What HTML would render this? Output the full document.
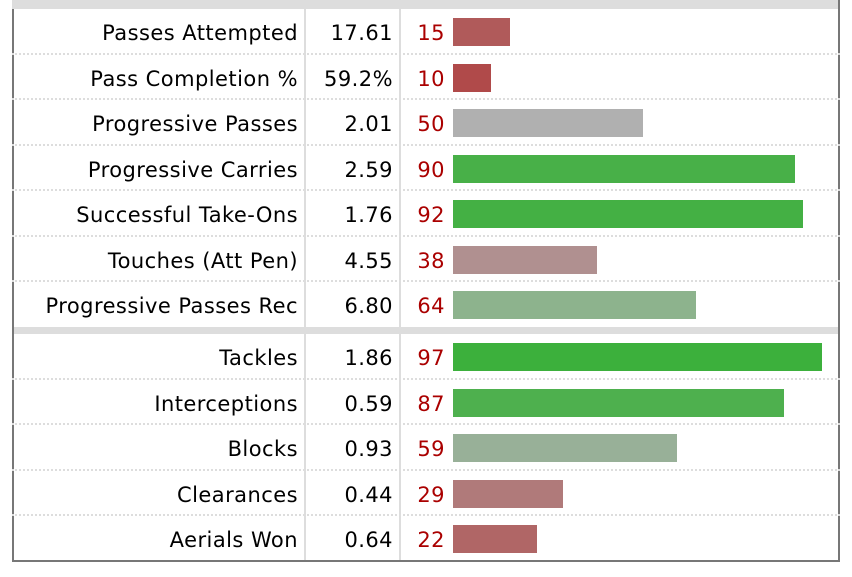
<!DOCTYPE html><html><head><style>
body{margin:0;width:852px;height:577px;background:#fff;position:relative;overflow:hidden;font-family:"DejaVu Sans",Verdana,sans-serif;font-size:21px;letter-spacing:0.45px;}
.band{position:absolute;left:12px;width:828px;background:#ddd}
.row{position:absolute;left:12px;width:828px;height:45.5px;border-bottom:2px dotted #ddd;box-sizing:border-box}
.l{position:absolute;right:542px;top:12px;color:#000;white-space:nowrap}
.v{position:absolute;right:447px;top:12px;color:#000}
.p{position:absolute;right:395px;top:12px;color:#a00}
.b{position:absolute;left:441px;top:9px;height:28px}
.vl{position:absolute;top:0;bottom:15px;width:2px;background:#ddd}
</style></head><body>
<div class="band" style="top:0;height:9px"></div>
<div class="band" style="top:327px;height:7px"></div>
<div class="vl" style="left:304px;top:0;height:562px"></div>
<div class="vl" style="left:399px;top:0;height:562px"></div>
<div style="position:absolute;left:12px;top:9px;width:2px;height:553px;background:#777"></div>
<div style="position:absolute;left:838px;top:0;width:2px;height:562px;background:#777"></div>
<div style="position:absolute;left:12px;top:560px;width:828px;height:2px;background:#777"></div>

<div class="row" style="top:9px"><span class="l">Passes Attempted</span><span class="v">17.61</span><span class="p">15</span><div class="b" style="width:57px;background:#b05a5a"></div></div>
<div class="row" style="top:54.5px"><span class="l">Pass Completion %</span><span class="v">59.2%</span><span class="p">10</span><div class="b" style="width:38px;background:#b04a4a"></div></div>
<div class="row" style="top:100px"><span class="l">Progressive Passes</span><span class="v">2.01</span><span class="p">50</span><div class="b" style="width:190px;background:#b0b0b0"></div></div>
<div class="row" style="top:145.5px"><span class="l">Progressive Carries</span><span class="v">2.59</span><span class="p">90</span><div class="b" style="width:342px;background:#48b048"></div></div>
<div class="row" style="top:191px"><span class="l">Successful Take-Ons</span><span class="v">1.76</span><span class="p">92</span><div class="b" style="width:350px;background:#44b044"></div></div>
<div class="row" style="top:236.5px"><span class="l">Touches (Att Pen)</span><span class="v">4.55</span><span class="p">38</span><div class="b" style="width:144px;background:#b09090"></div></div>
<div class="row" style="top:282px;border-bottom:none"><span class="l">Progressive Passes Rec</span><span class="v">6.80</span><span class="p">64</span><div class="b" style="width:243px;background:#8db38d"></div></div>

<div class="row" style="top:334px"><span class="l">Tackles</span><span class="v">1.86</span><span class="p">97</span><div class="b" style="width:369px;background:#3cb03c"></div></div>
<div class="row" style="top:379.5px"><span class="l">Interceptions</span><span class="v">0.59</span><span class="p">87</span><div class="b" style="width:331px;background:#4eb04e"></div></div>
<div class="row" style="top:425px"><span class="l">Blocks</span><span class="v">0.93</span><span class="p">59</span><div class="b" style="width:224px;background:#98b098"></div></div>
<div class="row" style="top:470.5px"><span class="l">Clearances</span><span class="v">0.44</span><span class="p">29</span><div class="b" style="width:110px;background:#b07a7a"></div></div>
<div class="row" style="top:516px;border-bottom:none"><span class="l">Aerials Won</span><span class="v">0.64</span><span class="p">22</span><div class="b" style="width:84px;background:#b06666"></div></div>
</body></html>
